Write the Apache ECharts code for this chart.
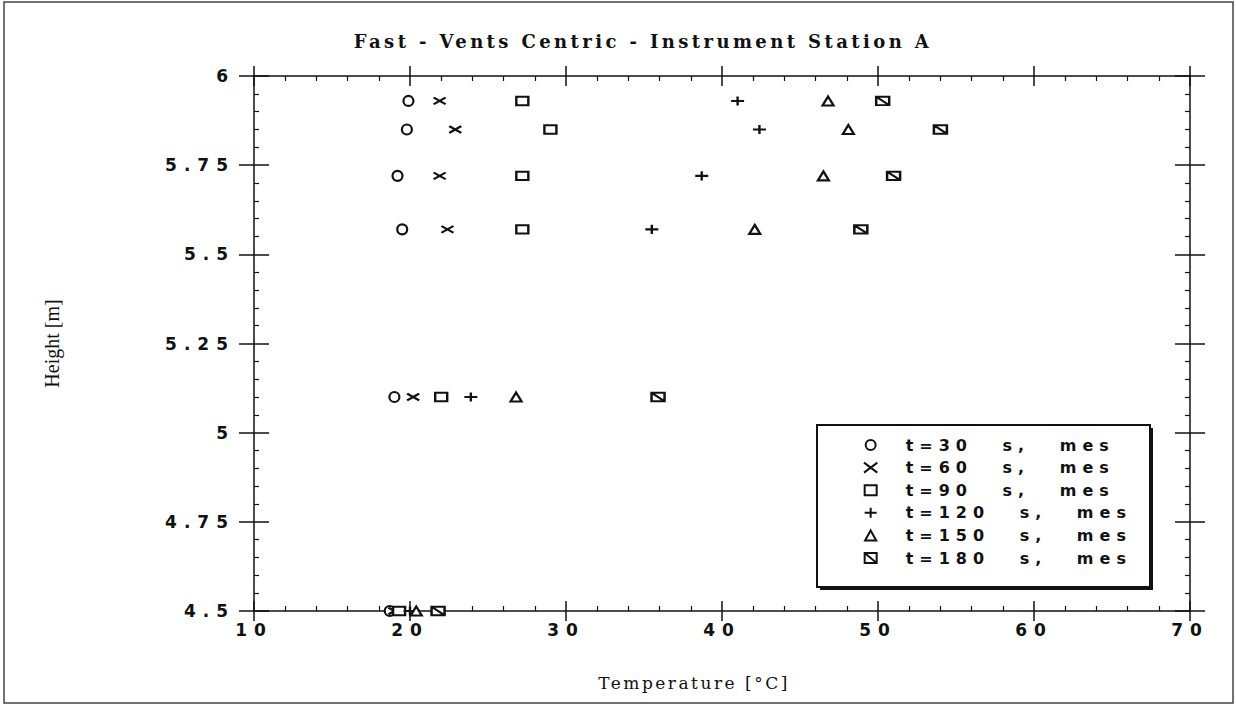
<!DOCTYPE html>
<html><head><meta charset="utf-8">
<script src="https://cdn.jsdelivr.net/npm/echarts@6/dist/echarts.min.js"></script>
<style>
html,body{margin:0;padding:0;background:#fff}
#c{width:1236px;height:704px}
#c text[style*="17px"][style*="DejaVu Sans"]{letter-spacing:7px}
#c text[style*="16px"][style*="DejaVu Sans"]{letter-spacing:6px;word-spacing:18px}
#c text[style*="DejaVu Serif"]{letter-spacing:2.5px}
#c text[style*="DejaVu Serif"][style*="bold"]{letter-spacing:3.4px}
</style></head><body><div id="c"></div>
<script>
// ---- data ----
const heights = [5.93, 5.85, 5.72, 5.57, 5.10, 4.50];
const seriesNames = ['t=30 s, mes', 't=60 s, mes', 't=90 s, mes', 't=120 s, mes', 't=150 s, mes', 't=180 s, mes'];
const temp30  = [19.9, 19.8, 19.2, 19.5, 19.0, 18.7];
const temp60  = [21.9, 22.9, 21.9, 22.4, 20.2, 19.0];
const temp90  = [27.2, 29.0, 27.2, 27.2, 22.0, 19.3];
const temp120 = [41.0, 42.4, 38.7, 35.5, 23.9, 20.0];
const temp150 = [46.8, 48.1, 46.5, 42.1, 26.8, 20.4];
const temp180 = [50.3, 54.0, 51.0, 48.9, 35.9, 21.8];
const xTicks = [10, 20, 30, 40, 50, 60, 70];
const yTicks = [4.5, 4.75, 5, 5.25, 5.5, 5.75, 6];
const titleText = 'Fast - Vents Centric - Instrument Station A';
const xName = 'Temperature [°C]';
const yName = 'Height [m]';

// ---- styling ----
const temps = [temp30, temp60, temp90, temp120, temp150, temp180];
const symbols = [
  'path://M5,0 A5,5 0 1,1 5,10 A5,5 0 1,1 5,0 Z',
  'path://M0,0 L12,9 M0,9 L12,0',
  'path://M0,0 L12,0 L12,10 L0,10 Z',
  'path://M0,5 L12,5 M6,0 L6,10',
  'path://M5,0 L10,9 L0,9 Z',
  'path://M0,0 L12,0 L12,10 L0,10 Z M0,0 L12,10'
];
const sizes = [[10, 10], [12, 9], [12, 10], [13, 11], [11, 10], [13, 10]];
const black = '#111';
const sansFont = 'DejaVu Sans';
const lineStyle = {color: black, width: 1.5};

const series = seriesNames.map((n, i) => ({
  name: n,
  type: 'scatter',
  symbol: symbols[i],
  symbolSize: sizes[i],
  symbolKeepAspect: true,
  itemStyle: {color: '#fff', borderColor: black, borderWidth: 2.2, opacity: 1},
  emphasis: {disabled: true},
  data: heights.map((h, j) => [temps[i][j], h]),
  z: 5
}));

function axisSet(dim, ticks, majorLen) {
  const base = {type: 'value', min: ticks[0], max: ticks[ticks.length - 1],
    interval: ticks[1] - ticks[0], splitLine: {show: false}, silent: true};
  const pos = dim === 'x' ? ['bottom', 'top'] : ['left', 'right'];
  const out = [];
  pos.forEach((p) => {
    out.push(Object.assign({}, base, {
      position: p,
      axisLine: {show: true, onZero: false, lineStyle},
      axisTick: {show: true, inside: false, length: majorLen, lineStyle},
      minorTick: {show: false},
      axisLabel: {show: false}
    }));
    out.push(Object.assign({}, base, {
      position: p,
      axisLine: {show: false, onZero: false},
      axisTick: {show: true, inside: true, length: majorLen, lineStyle},
      minorTick: {show: true, splitNumber: 5, length: 5, lineStyle: {color: black, width: 1.2}},
      axisLabel: {show: false}
    }));
  });
  out[0].axisLabel = {show: true, fontFamily: sansFont, fontWeight: 'bold', fontSize: 17, color: black,
    margin: dim === 'x' ? 10 : 19};
  if (dim === 'x') {
    Object.assign(out[0], {name: xName, nameLocation: 'middle', nameGap: 63,
      nameTextStyle: {fontFamily: 'DejaVu Serif', fontSize: 17, color: black, padding: [0, 56, 0, 0]}});
  } else {
    Object.assign(out[0], {name: yName, nameLocation: 'middle', nameGap: 192,
      nameTextStyle: {fontFamily: 'Liberation Serif', fontSize: 20, color: black}});
  }
  return out;
}

const chart = echarts.init(document.getElementById('c'), null, {renderer: 'svg'});
chart.setOption({
  animation: false,
  backgroundColor: '#fff',
  title: {text: titleText, left: 638, top: 27, textAlign: 'center',
    textStyle: {fontFamily: 'DejaVu Serif', fontWeight: 'bold', fontSize: 18, color: black}},
  grid: {left: 254, right: 46, top: 76, bottom: 93},
  xAxis: axisSet('x', xTicks, 10),
  yAxis: axisSet('y', yTicks, 15),
  legend: {
    orient: 'vertical', left: 863, top: 437, padding: 0,
    itemWidth: 60, itemHeight: 10, itemGap: 6.6, symbolKeepAspect: true,
    selectedMode: false,
    itemStyle: {color: '#fff', borderColor: black, borderWidth: 2},
    textStyle: {fontFamily: sansFont, fontWeight: 'bold', fontSize: 16, color: black, lineHeight: 16},
    data: seriesNames,
    z: 10
  },
  graphic: [
    {type: 'rect', z: 1, shape: {x: 4, y: 2, width: 1229, height: 701},
      style: {fill: 'none', stroke: '#444', lineWidth: 1.5}, silent: true},
    {type: 'rect', z: 1, shape: {x: 820, y: 428, width: 333, height: 162},
      style: {fill: black}, silent: true},
    {type: 'rect', z: 2, shape: {x: 817, y: 425, width: 333, height: 162},
      style: {fill: '#fff', stroke: black, lineWidth: 2}, silent: true}
  ],
  series
});
</script></body></html>
